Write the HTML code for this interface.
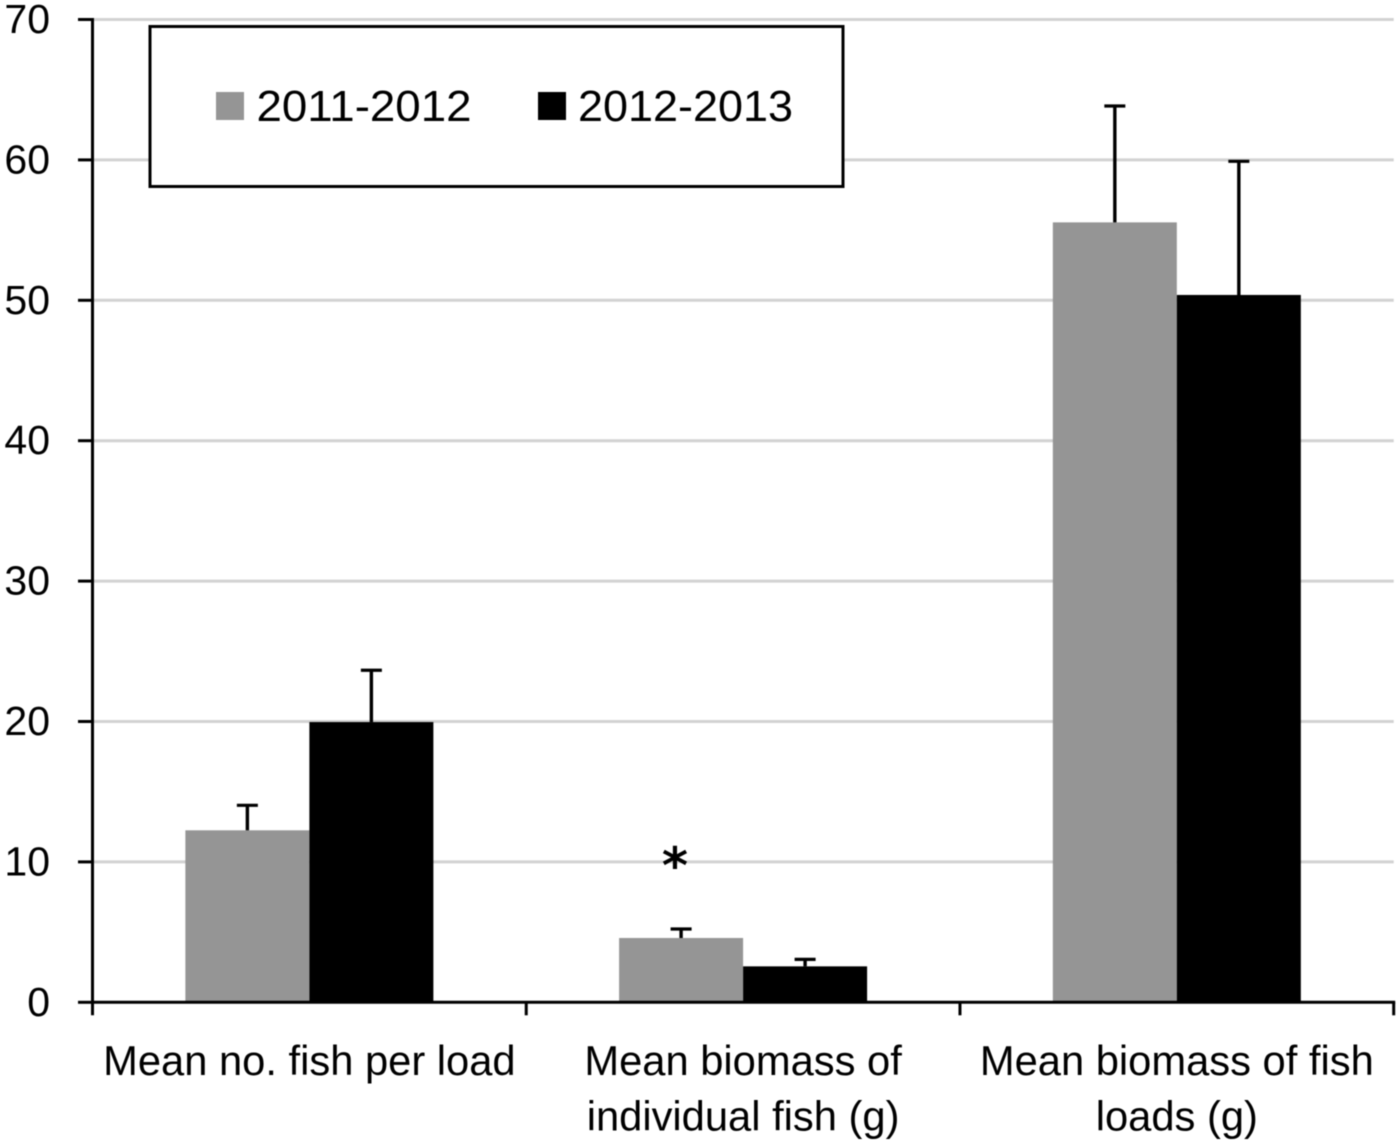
<!DOCTYPE html>
<html lang="en">
<head>
<meta charset="utf-8">
<title>Mean fish load chart</title>
<style>
html,body{margin:0;padding:0;background:#fff;width:1400px;height:1144px;overflow:hidden}
svg{display:block;font-family:"Liberation Sans",sans-serif;filter:blur(.45px)}
</style>
</head>
<body>
<svg id="chart" xmlns="http://www.w3.org/2000/svg" width="1400" height="1144" viewBox="0 0 1400 1144">
<rect width="1400" height="1144" fill="#fff"/>
<g id="grid"></g>
<g id="bars"></g>
<g id="errors"></g>
<g id="axes"></g>
<g id="ylabels"></g>
<g id="xlabels"></g>
<g>
  <rect x="150" y="26.5" width="693" height="160" fill="#fff" stroke="#000" stroke-width="3"/>
  <rect x="216" y="92" width="28" height="28" fill="#959595"/>
  <text x="256.5" y="121" font-size="44" textLength="215" lengthAdjust="spacingAndGlyphs" fill="#000">2011-2012</text>
  <rect x="538" y="92" width="28" height="28" fill="#000"/>
  <text x="578" y="121" font-size="44" textLength="215" lengthAdjust="spacingAndGlyphs" fill="#000">2012-2013</text>
</g>
<text x="675" y="883" font-size="50" font-weight="700" text-anchor="middle" style="font-family:'DejaVu Sans',sans-serif" fill="#000">*</text>
</svg>
<script>
const categories = [["Mean no. fish per load"], ["Mean biomass of", "individual fish (g)"], ["Mean biomass of fish", "loads (g)"]];
const series2011 = [12.25, 4.58, 55.55];
const series2012 = [19.96, 2.56, 50.38];
const errorTop2011 = [14.03, 5.22, 63.84];
const errorTop2012 = [23.65, 3.06, 59.9];
const yTicks = [0, 10, 20, 30, 40, 50, 60, 70];

const NS = 'http://www.w3.org/2000/svg';
const plotLeft = 92.5, plotRight = 1393.7, yZero = 1002.3, unitPx = 14.04;
const band = (plotRight - plotLeft) / categories.length;
const barW = 124;
const colors = ['#959595', '#000'];
const yScale = v => yZero - v * unitPx;
const xScale = (catIndex, seriesIndex) => plotLeft + band * catIndex + band / 2 - barW + seriesIndex * barW;

function make(parent, tag, attrs) {
  const el = document.createElementNS(NS, tag);
  for (const k in attrs) el.setAttribute(k, attrs[k]);
  document.getElementById(parent).appendChild(el);
  return el;
}

yTicks.forEach(t => {
  if (t > 0) {
    const g = make('grid', 'line', {x1: plotLeft, x2: plotRight, y1: yScale(t), y2: yScale(t), stroke: '#d2d2d2', 'stroke-width': 3});
    
    
  }
  const tick = make('axes', 'line', {x1: 78, x2: plotLeft, y1: yScale(t), y2: yScale(t), stroke: '#000', 'stroke-width': 3});
  
  
  const label = make('ylabels', 'text', {x: 50, y: yScale(t) + 13.5, 'font-size': 41, 'text-anchor': 'end', fill: '#000'});
  
  
  label.textContent = t;
});

[series2011, series2012].forEach((vals, s) => {
  vals.forEach((v, c) => {
    const bar = make('bars', 'rect', {x: xScale(c, s), y: yScale(v), width: barW, height: yZero - yScale(v), fill: colors[s]});
    
    
  });
});

[[series2011, errorTop2011], [series2012, errorTop2012]].forEach((pair, s) => {
  pair[1].forEach((top, c) => {
    const cx = xScale(c, s) + barW / 2;
    const stem = make('errors', 'line', {x1: cx, x2: cx, y1: yScale(pair[0][c]), y2: yScale(top), stroke: '#000', 'stroke-width': 3.4});
    
    
    const cap = make('errors', 'line', {x1: cx - 10.5, x2: cx + 10.5, y1: yScale(top), y2: yScale(top), stroke: '#000', 'stroke-width': 3.2});
    
    
  });
});

const yAxis = make('axes', 'line', {x1: plotLeft, x2: plotLeft, y1: yScale(70) - 1.5, y2: yZero + 13, stroke: '#000', 'stroke-width': 3});


const xAxis = make('axes', 'line', {x1: plotLeft, x2: plotRight + 1.5, y1: yZero, y2: yZero, stroke: '#000', 'stroke-width': 3});



categories.forEach((lines, c) => {
  const edge = plotLeft + band * (c + 1);
  const tick = make('axes', 'line', {x1: edge, x2: edge, y1: yZero, y2: yZero + 13, stroke: '#000', 'stroke-width': 3});
  
  
  const cx = plotLeft + band * c + band / 2;
  lines.forEach((line, i) => {
    const label = make('xlabels', 'text', {x: cx, y: 1075 + i * 55.5, 'font-size': 41.7, 'text-anchor': 'middle', fill: '#000'});
    
    
    label.textContent = line;
  });
});
</script>
</body>
</html>
